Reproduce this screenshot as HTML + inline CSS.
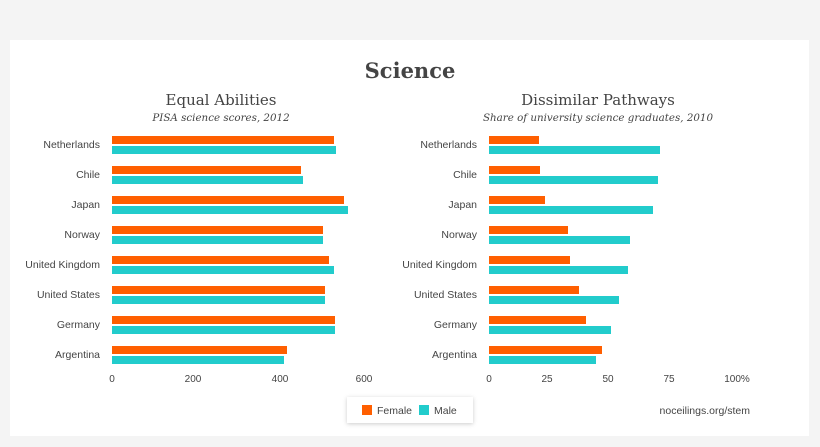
<!DOCTYPE html>
<html><head><style>
body{margin:0;width:820px;height:447px;background:#f4f4f4;overflow:hidden;font-family:"Liberation Sans",sans-serif;}
#p{position:absolute;left:10px;top:40px;width:799px;height:396px;background:#fff;}
</style></head><body>
<div id="p"></div>
<svg width="820" height="447" style="position:absolute;left:0;top:0">
<defs><filter id="sh" x="-20%" y="-40%" width="140%" height="180%"><feDropShadow dx="0" dy="1" stdDeviation="2" flood-opacity="0.2"/></filter></defs>
<g font-family="DejaVu Serif, serif" fill="#444" text-anchor="middle">
<text x="410" y="78" font-size="21" font-weight="bold">Science</text>
<text x="221" y="105" font-size="15">Equal Abilities</text>
<text x="221" y="121" font-size="10.3" font-style="italic">PISA science scores, 2012</text>
<text x="598" y="105" font-size="15">Dissimilar Pathways</text>
<text x="598" y="121" font-size="10.3" font-style="italic">Share of university science graduates, 2010</text>
</g>
<g font-size="10.5" fill="#444" text-anchor="end">
<text x="100" y="148">Netherlands</text><text x="100" y="178">Chile</text><text x="100" y="208">Japan</text><text x="100" y="238">Norway</text><text x="100" y="268">United Kingdom</text><text x="100" y="298">United States</text><text x="100" y="328">Germany</text><text x="100" y="358">Argentina</text>
<text x="477" y="148">Netherlands</text><text x="477" y="178">Chile</text><text x="477" y="208">Japan</text><text x="477" y="238">Norway</text><text x="477" y="268">United Kingdom</text><text x="477" y="298">United States</text><text x="477" y="328">Germany</text><text x="477" y="358">Argentina</text>
</g>
<g fill="#ff5f00">
<rect x="112" y="136" width="222" height="8"/><rect x="112" y="166" width="189" height="8"/><rect x="112" y="196" width="232" height="8"/><rect x="112" y="226" width="211" height="8"/><rect x="112" y="256" width="217" height="8"/><rect x="112" y="286" width="213" height="8"/><rect x="112" y="316" width="223" height="8"/><rect x="112" y="346" width="175" height="8"/>
<rect x="489" y="136" width="50" height="8"/><rect x="489" y="166" width="51" height="8"/><rect x="489" y="196" width="56" height="8"/><rect x="489" y="226" width="79" height="8"/><rect x="489" y="256" width="81" height="8"/><rect x="489" y="286" width="90" height="8"/><rect x="489" y="316" width="97" height="8"/><rect x="489" y="346" width="113" height="8"/>
</g>
<g fill="#22cccc">
<rect x="112" y="146" width="224" height="8"/><rect x="112" y="176" width="191" height="8"/><rect x="112" y="206" width="236" height="8"/><rect x="112" y="236" width="211" height="8"/><rect x="112" y="266" width="222" height="8"/><rect x="112" y="296" width="213" height="8"/><rect x="112" y="326" width="223" height="8"/><rect x="112" y="356" width="172" height="8"/>
<rect x="489" y="146" width="171" height="8"/><rect x="489" y="176" width="169" height="8"/><rect x="489" y="206" width="164" height="8"/><rect x="489" y="236" width="141" height="8"/><rect x="489" y="266" width="139" height="8"/><rect x="489" y="296" width="130" height="8"/><rect x="489" y="326" width="122" height="8"/><rect x="489" y="356" width="107" height="8"/>
</g>
<g font-size="10" fill="#444" text-anchor="middle">
<text x="112" y="382">0</text><text x="193" y="382">200</text><text x="280" y="382">400</text><text x="364" y="382">600</text>
<text x="489" y="382">0</text><text x="547" y="382">25</text><text x="608" y="382">50</text><text x="669" y="382">75</text><text x="737" y="382">100%</text>
</g>
<rect x="347" y="397" width="126" height="26" fill="#fff" filter="url(#sh)"/>
<rect x="362" y="405" width="10" height="10" fill="#ff5f00"/>
<rect x="419" y="405" width="10" height="10" fill="#22cccc"/>
<g font-size="10.5" fill="#444">
<text x="377" y="414">Female</text><text x="434" y="414">Male</text>
<text x="750" y="414" text-anchor="end">noceilings.org/stem</text>
</g>
</svg>
</body></html>
